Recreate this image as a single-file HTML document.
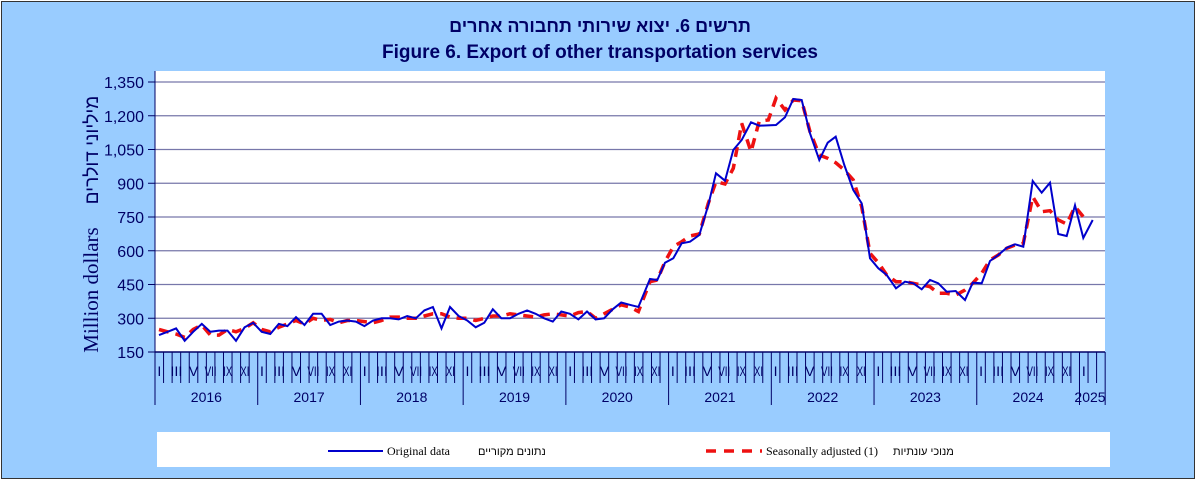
<!DOCTYPE html>
<html><head><meta charset="utf-8"><style>
body{margin:0;background:#fff}
svg{display:block}
text{font-family:"Liberation Sans","Noto Sans CJK SC",sans-serif}
</style></head><body>
<svg id="s" width="1200" height="481" xmlns="http://www.w3.org/2000/svg">
<rect x="0" y="0" width="1200" height="481" fill="#fff"/>
<rect x="1.5" y="1.5" width="1193" height="477" fill="#99CCFF" stroke="#333" stroke-width="1"/>
<text x="600" y="32" text-anchor="middle" font-size="18" font-weight="bold" fill="#000066" direction="rtl">תרשים 6. יצוא שירותי תחבורה אחרים</text>
<text x="600" y="58" text-anchor="middle" font-size="19" font-weight="bold" fill="#000066">Figure 6. Export of other transportation services</text>
<rect x="155" y="71" width="950" height="281" fill="#fff"/>
<g id="grid"></g>
<g id="axes"></g>
<text transform="translate(98,290) rotate(-90)" text-anchor="middle" font-size="21" fill="#000066" style="font-family:'Liberation Serif',serif">Million dollars</text>
<text transform="translate(98,150) rotate(-90)" text-anchor="middle" font-size="19" fill="#000066" direction="rtl">מיליוני דולרים</text>
<polyline id="red" fill="none" stroke="#EE1111" stroke-width="3.5" stroke-dasharray="10,7"/>
<polyline id="blue" fill="none" stroke="#0000CC" stroke-width="2"/>
<rect x="157" y="432" width="953" height="35" fill="#fff"/>
<line x1="328" y1="451" x2="383" y2="451" stroke="#0000CC" stroke-width="2"/>
<text x="387" y="455" font-size="12" fill="#000" style="font-family:'Liberation Serif',serif">Original data</text>
<text x="478" y="455" font-size="11" fill="#000" direction="ltr">נתונים מקוריים</text>
<line x1="706" y1="451" x2="762" y2="451" stroke="#EE1111" stroke-width="3.5" stroke-dasharray="10,8"/>
<text x="766" y="455" font-size="12" fill="#000" style="font-family:'Liberation Serif',serif">Seasonally adjusted (1)</text>
<text x="893" y="455" font-size="11" fill="#000">מנוכי עונתיות</text>
</svg>
<script>
const NS="http://www.w3.org/2000/svg";
function el(p,t,a,txt){const e=document.createElementNS(NS,t);for(const k in a)e.setAttribute(k,a[k]);if(txt!==undefined)e.textContent=txt;p.appendChild(e);return e;}
const g=document.getElementById('grid'),ax=document.getElementById('axes');
const Y=v=>352-(v-150)*0.225;
for(let v=150;v<=1350;v+=150){
 const y=Y(v);
 if(v>150) el(g,'line',{x1:155,x2:1105,y1:y,y2:y,stroke:'#7777aa','stroke-width':1.3});
 el(ax,'line',{x1:148,x2:155,y1:y,y2:y,stroke:'#000066'});
 el(ax,'text',{x:144,y:y+6,'text-anchor':'end','font-size':16,fill:'#000066'},v.toLocaleString('en-US'));
}
el(ax,'line',{x1:155,x2:155,y1:71,y2:352,stroke:'#000066'});
el(ax,'line',{x1:155,x2:1105,y1:352,y2:352,stroke:'#000066','stroke-width':1.5});
const mw=8.56,roman=['I','','III','','V','','VII','','IX','','XI',''];
for(let i=0;i<=111;i++){
 const x=155+i*mw;
 const yb=(i%12==0)||i==111;
 el(ax,'line',{x1:x,x2:x,y1:352,y2:yb?405:383,stroke:'#000066'});
 if(i<109&&roman[i%12]){
  const r=roman[i%12];
  const a={x:x+mw/2,y:376,'text-anchor':'middle','font-size':14,fill:'#000066'};
  if(r.length>1){a.textLength=r.length==3?12:9;a.lengthAdjust='spacingAndGlyphs';}
  el(ax,'text',a,r);
 }
}
const yrs=[2016,2017,2018,2019,2020,2021,2022,2023,2024];
yrs.forEach((yr,k)=>el(ax,'text',{x:155+(k*12+6)*mw,y:402,'text-anchor':'middle','font-size':14,fill:'#000066'},yr));
el(ax,'text',{x:1090,y:402,'text-anchor':'middle','font-size':14,fill:'#000066'},'2025');
function build(left,zoom){
 const pts=left.map((v,i)=>[159+i*mw,Y(v)]);
 zoom.forEach(p=>pts.push([650+p[0]/3,80+p[1]/3]));
 return pts.map(p=>p[0].toFixed(1)+','+p[1].toFixed(1)).join(' ');
}
const bl=[225,240,255,200,240,275,240,245,245,200,260,280,240,230,275,265,305,270,320,320,270,285,290,285,265,290,300,300,295,310,300,335,350,255,350,310,290,260,280,340,300,300,320,335,320,300,285,330,320,295,330,295,300,340,370,360,350];
const bz=[[0,597],[22,600],[45,548],[70,535],[95,490],[120,485],[148,465],[175,375],[198,280],[225,302],[250,210],[275,180],[303,127],[328,137],[378,135],[405,112],[430,57],[455,60],[480,160],[508,240],[533,188],[557,170],[583,255],[610,330],[635,370],[660,535],[685,565],[710,585],[738,625],[765,605],[790,610],[815,628],[840,600],[865,610],[890,635],[917,633],[945,660],[968,608],[995,610],[1020,543],[1045,525],[1070,503],[1095,493],[1120,500],[1148,303],[1175,338],[1200,308],[1225,462],[1250,468],[1275,376],[1300,474],[1328,420]];
const rl=[250,240,230,215,250,270,225,225,250,240,255,280,250,240,260,275,290,275,300,290,295,280,290,290,285,280,290,305,305,300,300,310,320,320,305,300,300,290,300,310,310,320,315,310,305,315,320,315,310,325,330,300,320,340,360,350,330];
const rz=[[0,605],[22,600],[45,545],[70,500],[95,485],[120,468],[148,462],[175,370],[198,305],[225,312],[250,265],[275,130],[303,215],[328,123],[355,120],[378,55],[405,90],[430,60],[455,62],[480,155],[508,225],[533,235],[557,248],[583,270],[610,300],[635,380],[660,520],[685,548],[710,585],[738,605],[765,605],[790,610],[815,615],[840,620],[865,640],[890,640],[917,645],[945,630],[968,610],[995,580],[1020,540],[1045,525],[1070,505],[1095,495],[1120,490],[1148,350],[1175,395],[1200,392],[1225,420],[1250,432],[1275,380],[1300,410]];
document.getElementById('blue').setAttribute('points',build(bl,bz));
document.getElementById('red').setAttribute('points',build(rl,rz));
</script>
</body></html>
